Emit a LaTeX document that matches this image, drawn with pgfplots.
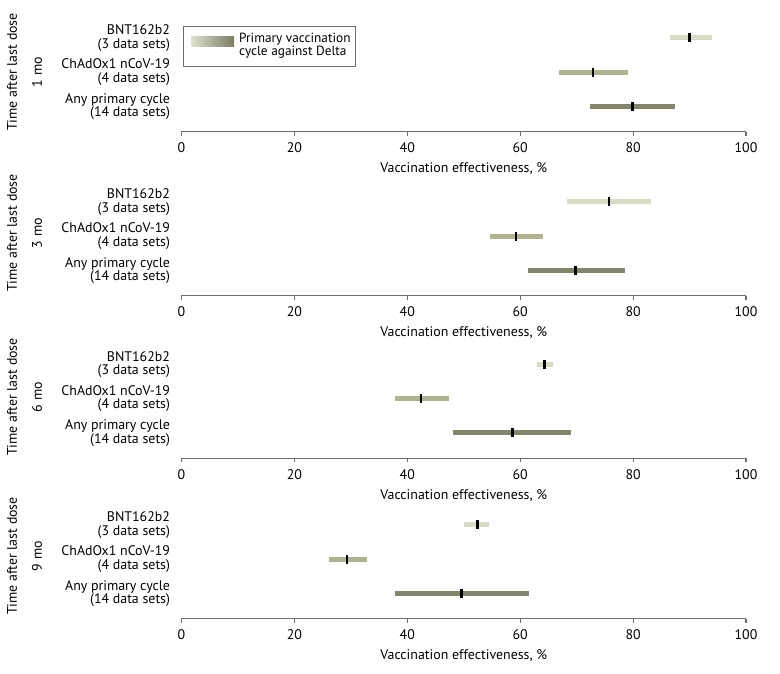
\documentclass[border=0pt]{standalone}
\usepackage{fontspec}
\setmainfont{PT Sans}
\usepackage{pgfplots}
\pgfplotsset{compat=1.18}
\definecolor{cB}{HTML}{D9DCC3}
\definecolor{cC}{HTML}{B1B38F}
\definecolor{cA}{HTML}{85856C}
\definecolor{gL}{HTML}{DCDFCA}
\definecolor{gD}{HTML}{7C7C64}
\definecolor{axgray}{HTML}{6E6E6E}
\newcommand{\fs}{\fontsize{13.9}{13.5}\selectfont}
\pgfplotsset{panel/.style={
  scale only axis, width=564.5pt, height=107.4pt,
  xmin=0, xmax=100, ymin=0.26, ymax=3.4,
  axis x line*=bottom, axis y line*=left,
  y axis line style={draw=none},
  x axis line style={axgray, line width=1.1pt},
  xtick={0,20,...,100}, ytick={1,2,3},
  xtick style={axgray, line width=1.1pt},
  ytick style={draw=none},
  major tick length=4pt, tick align=outside,
  yticklabels={{Any primary cycle\\(14 data sets)},{ChAdOx1 nCoV-19\\(4 data sets)},{BNT162b2\\(3 data sets)}},
  yticklabel style={align=right, font=\fs, xshift=-4pt},
  xticklabel style={font=\fs, yshift=-3.5pt},
  /pgf/number format/assume math mode=true,
  xlabel={Vaccination effectiveness, \%},
  xlabel style={font=\fs, yshift=-3pt},
  clip=false,
  anchor=south west,
  bar/.style={line width=5pt, forget plot},
  pt/.style={only marks, mark=|, mark size=4.5pt, mark options={line width=2.5pt, black}, forget plot},
}}
\begin{document}
\begin{tikzpicture}[font=\fs]
\useasboundingbox (0,0) rectangle (780pt,674pt);
% Panel 1 (1 mo)
\begin{axis}[panel, at={(181.5pt,542.3pt)}]
\addplot[bar, cB] coordinates {(86.5,3) (94.0,3)};
\addplot[bar, cC] coordinates {(66.9,2) (79.1,2)};
\addplot[bar, cA] coordinates {(72.3,1) (87.5,1)};
\addplot[pt] coordinates {(90.0,3) (72.9,2) (79.9,1)};
\end{axis}
% Panel 2 (3 mo)
\begin{axis}[panel, at={(181.5pt,378.3pt)}]
\addplot[bar, cB] coordinates {(68.3,3) (83.2,3)};
\addplot[bar, cC] coordinates {(54.6,2) (64.0,2)};
\addplot[bar, cA] coordinates {(61.3,1) (78.5,1)};
\addplot[pt] coordinates {(75.7,3) (59.3,2) (69.8,1)};
\end{axis}
% Panel 3 (6 mo)
\begin{axis}[panel, at={(181.5pt,215.7pt)}]
\addplot[bar, cB] coordinates {(62.9,3) (65.8,3)};
\addplot[bar, cC] coordinates {(37.8,2) (47.3,2)};
\addplot[bar, cA] coordinates {(48.1,1) (69.0,1)};
\addplot[pt] coordinates {(64.3,3) (42.4,2) (58.6,1)};
\end{axis}
% Panel 4 (9 mo)
\begin{axis}[panel, at={(181.5pt,55.3pt)}]
\addplot[bar, cB] coordinates {(50.0,3) (54.5,3)};
\addplot[bar, cC] coordinates {(26.2,2) (32.9,2)};
\addplot[bar, cA] coordinates {(37.9,1) (61.6,1)};
\addplot[pt] coordinates {(52.4,3) (29.3,2) (49.6,1)};
\end{axis}
% side labels
\foreach \yy/\lab in {602/1 mo, 441/3 mo, 277/6 mo, 118/9 mo}{
  \node[rotate=90] at (12pt,\yy pt) {Time after last dose};
  \node[rotate=90] at (37pt,\yy pt) {\lab};
}
% legend
\draw[axgray, line width=0.8pt] (183.5pt,607.3pt) rectangle (355.5pt,647.3pt);
\shade[left color=gL, right color=gD] (191.7pt,627.3pt) rectangle (234pt,637.3pt);
\node[anchor=west, align=left, inner sep=0pt, font=\fontsize{13.3}{13.5}\selectfont] at (239pt,628.5pt) {Primary vaccination\\cycle against Delta};
\end{tikzpicture}
\end{document}
